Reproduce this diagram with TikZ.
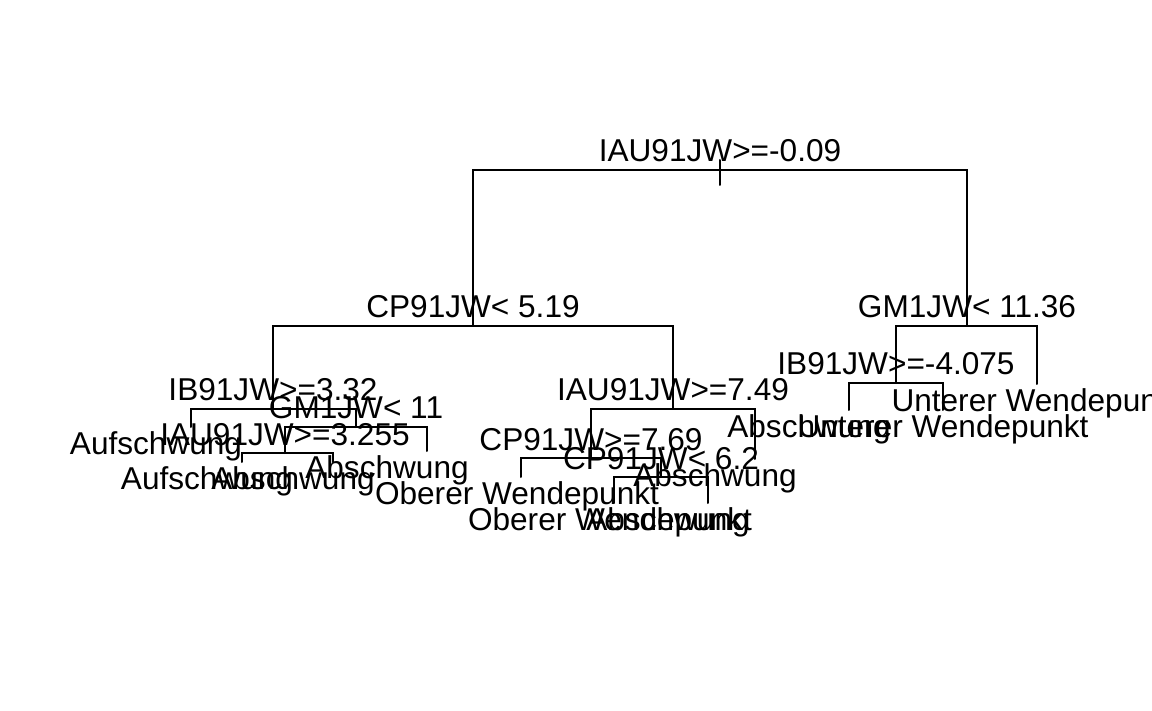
\documentclass[tikz,border=0pt]{standalone}
\usepackage{fontspec}
\setmainfont{Liberation Sans}
\usetikzlibrary{calc}
\begin{document}
\begin{tikzpicture}[x=1pt,y=-1pt,
  branch/.style={line width=2pt, line cap=round},
  lbl/.style={font=\fontsize{31.6}{36}\selectfont, inner sep=0pt, anchor=base}]
\path[use as bounding box, fill=white] (0,0) rectangle (1152,711);
% tree positions
\coordinate (rtop) at (720,160);
\coordinate (rbot) at (720,185);
\coordinate (n1) at (720,170);
\coordinate (n2) at (473,326);
\coordinate (n3) at (967,326);
\coordinate (n4) at (273,409);
\coordinate (n5) at (673,409);
\coordinate (n6) at (896,383);
\coordinate (n7) at (1037,384);
\coordinate (n8) at (191,427);
\coordinate (n9) at (356,427);
\coordinate (n18) at (285,453);
\coordinate (n19) at (427,451);
\coordinate (n36) at (242,462);
\coordinate (n37) at (333,462);
\coordinate (n10) at (591,458);
\coordinate (n11) at (755,459);
\coordinate (n20) at (521,477);
\coordinate (n21) at (661,477);
\coordinate (n42) at (614,503);
\coordinate (n43) at (708,503);
\coordinate (n12) at (849,410);
\coordinate (n13) at (943,410);
% branches
\draw[branch] (rtop) -- (rbot);
\draw[branch] (n1) -| (n2);
\draw[branch] (n1) -| (n3);
\draw[branch] (n2) -| (n4);
\draw[branch] (n2) -| (n5);
\draw[branch] (n3) -| (n6);
\draw[branch] (n3) -| (n7);
\draw[branch] (n4) -| (n8);
\draw[branch] (n4) -| (n9);
\draw[branch] (n9) -| (n18);
\draw[branch] (n9) -| (n19);
\draw[branch] (n18) -| (n36);
\draw[branch] (n18) -| (n37);
\draw[branch] (n5) -| (n10);
\draw[branch] (n5) -| (n11);
\draw[branch] (n10) -| (n20);
\draw[branch] (n10) -| (n21);
\draw[branch] (n21) -| (n42);
\draw[branch] (n21) -| (n43);
\draw[branch] (n6) -| (n12);
\draw[branch] (n6) -| (n13);
% split labels
\node[lbl] (s1) at ($(n1)+(0,-8)$) {IAU91JW>=-0.09};
\node[lbl] (s2) at ($(n2)+(0,-8)$) {CP91JW< 5.19};
\node[lbl] (s3) at ($(n3)+(0,-8)$) {GM1JW< 11.36};
\node[lbl] (s4) at ($(n4)+(0,-8)$) {IB91JW>=3.32};
\node[lbl] (s5) at ($(n5)+(0,-8)$) {IAU91JW>=7.49};
\node[lbl] (s6) at ($(n6)+(0,-8)$) {IB91JW>=-4.075};
\node[lbl] (s9) at ($(n9)+(0,-8)$) {GM1JW< 11};
\node[lbl] (s18) at ($(n18)+(0,-8)$) {IAU91JW>=3.255};
\node[lbl] (s10) at ($(n10)+(0,-8)$) {CP91JW>=7.69};
\node[lbl] (s21) at ($(n21)+(0,-8)$) {CP91JW< 6.2};
% leaf labels
\node[lbl] (f8) at ($(n8)+(-35,27.5)$) {Aufschwung};
\node[lbl] (f36) at ($(n36)+(-35,27.5)$) {Aufschwung};
\node[lbl] (f37) at ($(n37)+(-40,27.5)$) {Abschwung};
\node[lbl] (f19) at ($(n19)+(-40,27.5)$) {Abschwung};
\node[lbl] (f20) at ($(n20)+(-4,27.5)$) {Oberer Wendepunkt};
\node[lbl] (f42) at ($(n42)+(-4,27.5)$) {Oberer Wendepunkt};
\node[lbl] (f43) at ($(n43)+(-40,27.5)$) {Abschwung};
\node[lbl] (f11) at ($(n11)+(-40,27.5)$) {Abschwung};
\node[lbl] (f12) at ($(n12)+(-40,27.5)$) {Abschwung};
\node[lbl] (f13) at ($(n13)+(0,27.5)$) {Unterer Wendepunkt};
\node[lbl] (f7) at ($(n7)+(0,27.5)$) {Unterer Wendepunkt};
\end{tikzpicture}
\end{document}
